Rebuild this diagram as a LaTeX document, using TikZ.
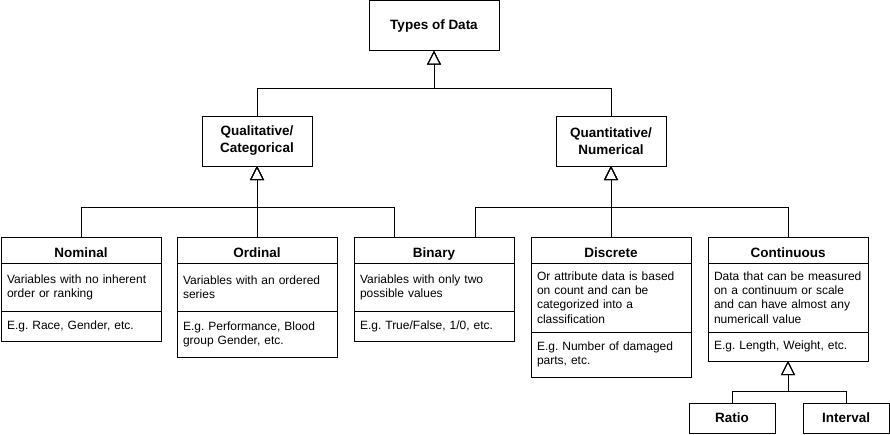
\documentclass[tikz,border=0pt]{standalone}
\usepackage{fontspec}
\setmainfont{Liberation Sans}
\usetikzlibrary{positioning,arrows.meta}
\frenchspacing

\begin{document}
\begin{tikzpicture}[x=1pt,y=-1pt,
    box/.style={draw, line width=1pt, outer sep=0pt, inner sep=0pt, align=center,
        font=\bfseries\fontsize{13.5}{17}\selectfont},
    head/.style={box, minimum width=160pt, minimum height=26pt, text height=17pt, text depth=1.6pt},
    sec/.style={draw, line width=1pt, outer sep=0pt, inner xsep=6pt, inner ysep=0pt,
        text width=148pt, align=left, font=\fontsize{12}{14.2}\selectfont},
    gen/.style={line width=1pt, -{Triangle[open,length=14pt,width=14pt]}}]
    \useasboundingbox (0,0) rectangle (890,434);
    % Top levels
    \node[box, minimum width=130pt, minimum height=50pt] (types) at (434,25.7) {Types of Data};
    \node[box, minimum width=110pt, minimum height=50pt] (qual) at (257,141) {Qualitative/\\Categorical};
    \node[box, minimum width=110pt, minimum height=50pt] (quant) at (611,141) {Quantitative/\\Numerical};
    % Nominal
    \node[head] (nom) at (81,250) {Nominal};
    \node[sec, minimum height=48pt, below=0pt of nom] (nomdef) {Variables with no inherent\\order or ranking};
    \node[sec, minimum height=30pt, below=0pt of nomdef] (nomeg) {E.g. Race, Gender, etc.};
    % Ordinal
    \node[head] (ord) at (257,250) {Ordinal};
    \node[sec, minimum height=48pt, below=0pt of ord] (orddef) {Variables with an ordered\\series};
    \node[sec, minimum height=46pt, below=0pt of orddef] (ordeg) {E.g. Performance, Blood\\group Gender, etc.};
    % Binary
    \node[head] (bin) at (434,250) {Binary};
    \node[sec, minimum height=48pt, below=0pt of bin] (bindef) {Variables with only two\\possible values};
    \node[sec, minimum height=30pt, below=0pt of bindef] (bineg) {E.g. True/False, 1/0, etc.};
    % Discrete
    \node[head] (disc) at (611,250) {Discrete};
    \node[sec, minimum height=69pt, below=0pt of disc] (discdef) {Or attribute data is based\\on count and can be\\categorized into a\\classification};
    \node[sec, minimum height=45pt, below=0pt of discdef] (disceg) {E.g. Number of damaged\\parts, etc.};
    % Continuous
    \node[head] (cont) at (788,250) {Continuous};
    \node[sec, minimum height=69pt, below=0pt of cont] (contdef) {Data that can be measured\\on a continuum or scale\\and can have almost any\\numericall value};
    \node[sec, minimum height=29pt, below=0pt of contdef] (conteg) {E.g. Length, Weight, etc.};
    % Kinds of continuous data
    \node[box, minimum width=86pt, minimum height=30pt] (ratio) at (732,418) {Ratio};
    \node[box, minimum width=86pt, minimum height=30pt] (interval) at (846,418) {Interval};
    % Rails shared by the connectors
    \coordinate (toprail) at (0,88);
    \coordinate (midrail) at (0,207);
    \coordinate (lowrail) at (0,391);
    % Connectors to Types of Data
    \draw[gen] (qual.north) |- (toprail -| types.south) -- (types.south);
    \draw[gen] (quant.north) |- (toprail -| types.south) -- (types.south);
    % Connectors to Qualitative
    \draw[gen] (nom.north) |- (midrail -| qual.south) -- (qual.south);
    \draw[gen] (ord.north) -- (qual.south);
    \draw[gen] ([xshift=-40pt]bin.north) |- (midrail -| qual.south) -- (qual.south);
    % Connectors to Quantitative
    \draw[gen] ([xshift=41pt]bin.north) |- (midrail -| quant.south) -- (quant.south);
    \draw[gen] (disc.north) -- (quant.south);
    \draw[gen] (cont.north) |- (midrail -| quant.south) -- (quant.south);
    % Connectors to Continuous
    \draw[gen] (ratio.north) |- (lowrail -| conteg.south) -- (conteg.south);
    \draw[gen] (interval.north) |- (lowrail -| conteg.south) -- (conteg.south);
\end{tikzpicture}
\end{document}
